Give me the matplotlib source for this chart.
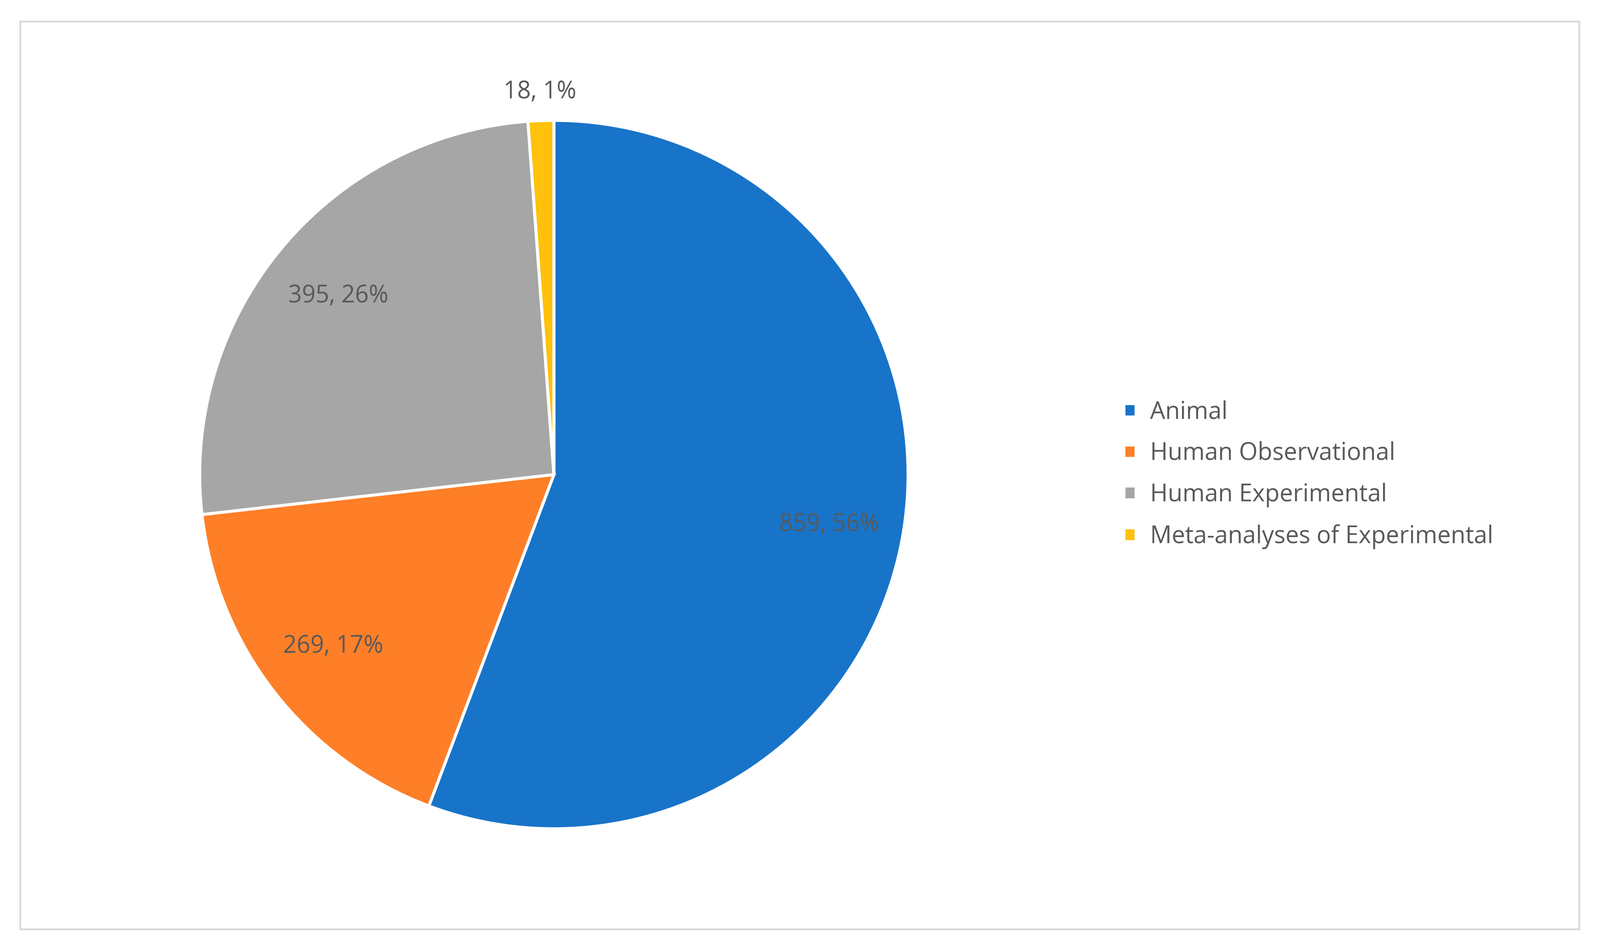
import matplotlib
matplotlib.use("Agg")
import matplotlib.pyplot as plt
from matplotlib.patches import Rectangle

categories = ["Animal", "Human Observational", "Human Experimental", "Meta-analyses of Experimental"]
values = [859, 269, 395, 18]
percents = ["56%", "17%", "26%", "1%"]
colors = ["#1874C8", "#FE7F27", "#A6A6A6", "#FEC10C"]

W, H = 3709, 2202
fig = plt.figure(figsize=(W/100, H/100), dpi=100)
fig.patches.append(Rectangle((20/W*2.365/2.365*1, 0), 0, 0))
fig.patches.append(Rectangle((47/W, 48/H), (3661-47)/W, (2152-48)/H, transform=fig.transFigure,
                             fill=False, edgecolor="#D9D9D9", linewidth=3))

cx, cy, r = 1284, 1100, 821
ax = fig.add_axes([(cx-r)/W, (H-cy-r)/H, 2*r/W, 2*r/H])
wedges, _ = ax.pie(values, colors=colors, startangle=90, counterclock=False,
                   wedgeprops=dict(edgecolor="white", linewidth=5))
ax.set_xlim(-1, 1); ax.set_ylim(-1, 1); ax.set_aspect("equal")

import numpy as np
for w, v, p in zip(wedges, values, percents):
    ang = np.deg2rad((w.theta1 + w.theta2) / 2)
    d = 0.79 if v > 50 else 1.08
    ax.text(d*np.cos(ang), d*np.sin(ang), f"{v}, {p}", ha="center", va="center",
            fontsize=40, color="#595959", family="Open Sans")

fig.legend(wedges, categories, loc="center left", bbox_to_anchor=(2555/W, 1-1100/H),
           frameon=False, prop=dict(family="Open Sans", size=40), labelcolor="#595959",
           handlelength=0.5, handleheight=0.5, handletextpad=0.6, labelspacing=0.7)
fig.savefig("out.png", dpi=100, facecolor="white")
